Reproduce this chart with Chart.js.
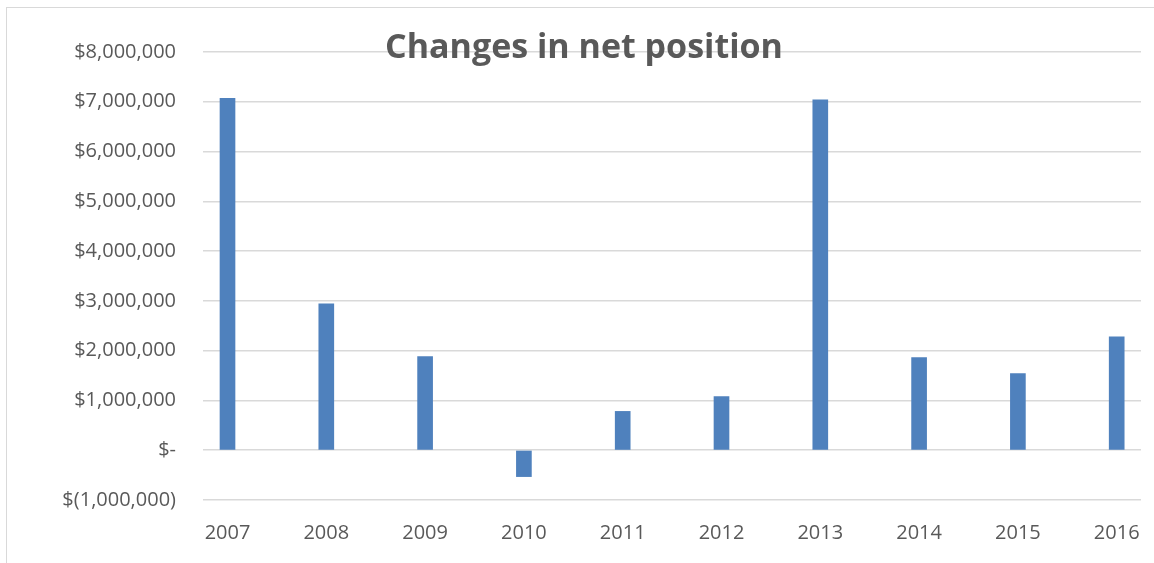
<!DOCTYPE html>
<html>
<head>
<meta charset="utf-8">
<script src="https://cdn.jsdelivr.net/npm/chart.js@4/dist/chart.umd.min.js"></script>
<style>
  html, body { margin: 0; padding: 0; background: #fff; overflow: hidden; }
  #frame { position: absolute; left: 6px; top: 7px; width: 1200px; height: 600px; border: 1.5px solid #d9d9d9; }
  #chart { position: absolute; left: 0; top: 0; }
</style>
</head>
<body>
<div id="frame"></div>
<canvas id="chart" width="1154" height="563"></canvas>
<script>
// Chart data
const years = ['2007', '2008', '2009', '2010', '2011', '2012', '2013', '2014', '2015', '2016'];
const netChange = [7070000, 2940000, 1880000, -530000, 780000, 1080000, 7040000, 1860000, 1540000, 2280000];
const yTicks = [-1000000, 0, 1000000, 2000000, 3000000, 4000000, 5000000, 6000000, 7000000, 8000000];

const textColor = '#595959';
const gridColor = '#d9d9d9';

function money(v) {
    if (v === 0) return '$-';
    const s = Math.abs(v).toLocaleString('en-US');
    return v < 0 ? '$(' + s + ')' : '$' + s;
}

// title sits on top of the plot, like the Excel original
const titleOverlay = {
    id: 'titleOverlay',
    afterDraw(chart) {
        const ctx = chart.ctx;
        ctx.save();
        ctx.font = "bold 34px 'Open Sans', sans-serif";
        ctx.fillStyle = textColor;
        ctx.textAlign = 'center';
        ctx.textBaseline = 'middle';
        ctx.fillText('Changes in net position', 584, 48);
        ctx.restore();
    }
};

new Chart(document.getElementById('chart'), {
    type: 'bar',
    data: {
        datasets: [{
            data: years.map((y, i) => ({ x: i, y: netChange[i] })),
            backgroundColor: '#4f81bd',
            barThickness: 15
        }]
    },
    options: {
        responsive: false,
        animation: false,
        layout: { padding: { top: 52, right: 13, left: 0, bottom: 0 } },
        plugins: {
            legend: { display: false },
            tooltip: { enabled: false }
        },
        scales: {
            x: {
                type: 'linear',
                offset: false,
                min: -0.248,
                max: 9.246,
                afterBuildTicks: axis => { axis.ticks = years.map((y, i) => ({ value: i })); },
                afterFit: axis => { axis.height = 63; },
                grid: { display: false },
                border: { display: false },
                ticks: {
                    padding: 13,
                    color: textColor,
                    font: { family: "'Open Sans', sans-serif", size: 20 },
                    callback: v => years[v]
                }
            },
            y: {
                min: -1000000,
                max: 8000000,
                afterBuildTicks: axis => { axis.ticks = yTicks.map(v => ({ value: v })); },
                afterFit: axis => { axis.width = 203; },
                grid: { color: gridColor, lineWidth: 1.5, drawTicks: false },
                border: { display: false },
                ticks: {
                    padding: 27,
                    color: textColor,
                    font: { family: "'Open Sans', sans-serif", size: 20 },
                    callback: v => money(v)
                }
            }
        }
    },
    plugins: [titleOverlay]
});
</script>
</body>
</html>
